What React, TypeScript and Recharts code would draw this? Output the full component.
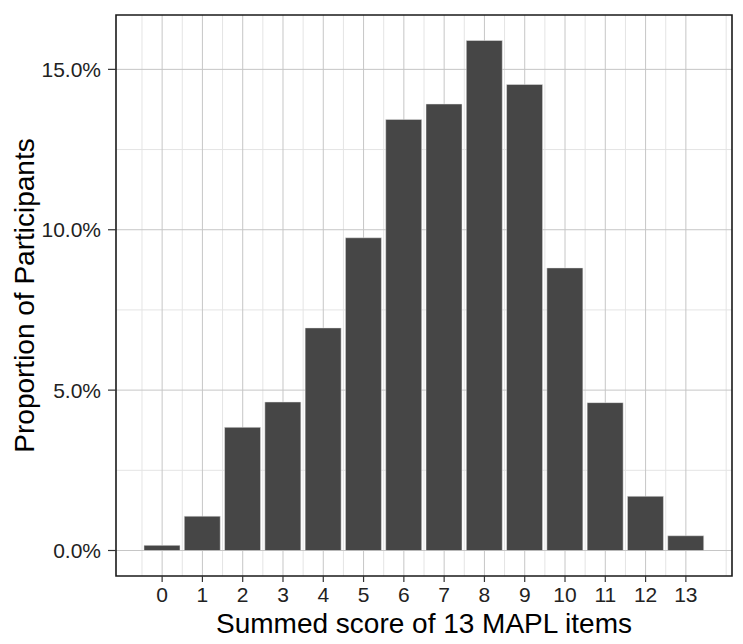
import { BarChart, Bar, XAxis, YAxis, CartesianGrid, ReferenceArea } from "recharts";

const scores = [0, 1, 2, 3, 4, 5, 6, 7, 8, 9, 10, 11, 12, 13];
const proportions = [0.16, 1.07, 3.84, 4.63, 6.94, 9.75, 13.44, 13.92, 15.9, 14.53, 8.81, 4.61, 1.69, 0.46];
const yMajor = [0, 5, 10, 15];
const yMinor = [2.5, 7.5, 12.5];
const xMinor = [-1, -0.5, 0.5, 1.5, 2.5, 3.5, 4.5, 5.5, 6.5, 7.5, 8.5, 9.5, 10.5, 11.5, 12.5, 13.5, 14];

const data = scores.map((s, i) => ({ score: s, value: proportions[i] }));

const xDomain = [-1.145, 14.145];
const yDomain = [-0.795, 16.695];
const font = "'Liberation Sans', Arial, sans-serif";

export default function App() {
  return (
    <div style={{ position: "fixed", left: 0, top: 0, width: 743, height: 644, background: "#fff" }}>
      <BarChart width={743} height={644} data={data} margin={{ top: 15, right: 11, bottom: 0, left: 0 }}>
        <CartesianGrid verticalValues={xMinor} horizontalValues={yMinor} stroke="#e4e4e4" strokeWidth={1} />
        <CartesianGrid verticalValues={scores} horizontalValues={yMajor} stroke="#c6c6c6" strokeWidth={1} />
        <XAxis
          dataKey="score"
          type="number"
          domain={xDomain}
          ticks={scores}
          allowDataOverflow
          tick={{ fill: "#222", fontSize: 21, fontFamily: font }}
          tickLine={{ stroke: "#333", strokeWidth: 1.2 }}
          tickSize={6}
          tickMargin={5}
          axisLine={false}
          height={68}
          label={{ value: "Summed score of 13 MAPL items", position: "insideBottom", offset: 11, fill: "#000", fontSize: 28, fontFamily: font }}
        />
        <YAxis
          type="number"
          domain={yDomain}
          ticks={yMajor}
          allowDataOverflow
          tickFormatter={(v) => `${Number(v).toFixed(1)}%`}
          tick={{ fill: "#222", fontSize: 21, fontFamily: font }}
          tickLine={{ stroke: "#333", strokeWidth: 1.2 }}
          tickSize={8}
          tickMargin={7}
          axisLine={false}
          width={116}
          label={{ value: "Proportion of Participants", angle: -90, position: "insideLeft", offset: 24, style: { textAnchor: "middle" }, fill: "#000", fontSize: 28, fontFamily: font }}
        />
        <Bar dataKey="value" fill="#464646" stroke="#e8e8e8" strokeWidth={0.5} barSize={36} isAnimationActive={false} />
        <ReferenceArea
          x1={xDomain[0]}
          x2={xDomain[1]}
          y1={yDomain[0]}
          y2={yDomain[1]}
          fill="none"
          fillOpacity={0}
          stroke="#1a1a1a"
          strokeWidth={1.6}
        />
      </BarChart>
    </div>
  );
}
